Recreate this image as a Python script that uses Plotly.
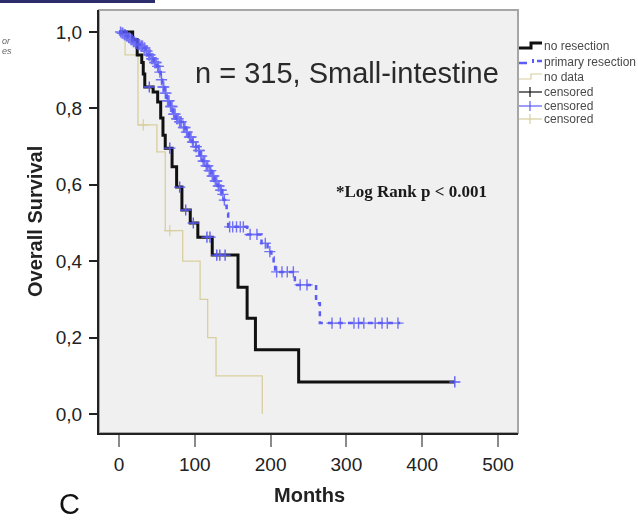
import numpy as np
import plotly.graph_objects as go

# ---------------- data ----------------
no_res_t = [0, 18, 24, 30, 32, 34, 45, 51, 55, 58, 61, 70, 76, 83, 94, 104, 123, 157, 169, 180, 237, 443]
no_res_s = [1.0, 0.98, 0.94, 0.92, 0.89, 0.856, 0.843, 0.817, 0.775, 0.73, 0.696, 0.647, 0.594, 0.534,
            0.50, 0.463, 0.416, 0.332, 0.251, 0.168, 0.084, 0.084]
no_res_cens = [40, 67, 80, 88, 98, 116, 120, 129, 133, 140, 443]

prim_t = [0, 3, 6, 9, 12, 15, 18, 21, 24, 28, 32, 35, 38, 42, 46, 50, 53, 55, 57, 60, 63, 67, 71, 75, 79,
          84, 88, 92, 96, 100, 104, 107, 110, 114, 118, 122, 126, 130, 133, 136, 138, 140, 142, 144,
          169, 188, 196, 201, 204, 206, 232, 260, 265, 371]
prim_s = [1.0, 0.997, 0.993, 0.99, 0.985, 0.98, 0.975, 0.97, 0.967, 0.963, 0.958, 0.95, 0.94, 0.93,
          0.92, 0.91, 0.895, 0.875, 0.856, 0.84, 0.82, 0.805, 0.785, 0.773, 0.765, 0.75, 0.738, 0.725,
          0.712, 0.70, 0.69, 0.675, 0.662, 0.65, 0.637, 0.623, 0.61, 0.597, 0.586, 0.575, 0.56, 0.545,
          0.525, 0.49, 0.47, 0.447, 0.425, 0.41, 0.39, 0.372, 0.338, 0.29, 0.238, 0.238]
prim_cens = [2, 4, 5, 7, 8, 10, 11, 13, 14, 16, 17, 19, 20, 22, 23, 25, 26, 27, 29, 30, 31, 33, 34, 36,
             37, 39, 40, 41, 43, 44, 45, 47, 48, 49, 51, 52, 54, 56, 58, 59, 61, 62, 64, 65, 66, 68, 69,
             70, 72, 73, 74, 76, 77, 78, 80, 81, 82, 85, 86, 87, 89, 90, 93, 94, 95, 97, 98, 101, 102,
             105, 106, 108, 109, 111, 112, 113, 115, 116, 117, 119, 120, 121, 123, 124, 125, 127, 128,
             129, 131, 132, 134, 135, 137, 139, 146, 150, 155, 160, 164, 173, 182, 193, 199, 208, 215,
             222, 230, 239, 248, 281, 292, 310, 316, 323, 338, 347, 354, 368]

nodata_t = [0, 8, 25, 50, 61, 84, 107, 117, 128, 189]
nodata_s = [1.0, 0.94, 0.757, 0.686, 0.48, 0.40, 0.30, 0.20, 0.10, 0.0]
nodata_cens = [32, 67]

x_ticks = [0, 100, 200, 300, 400, 500]
y_ticks = [0.0, 0.2, 0.4, 0.6, 0.8, 1.0]
y_ticktext = ["0,0", "0,2", "0,4", "0,6", "0,8", "1,0"]

legend_labels = ["no resection", "primary resection", "no data", "censored", "censored", "censored"]

# ---------------- styles ----------------
BLACK = "#111111"
BLUE = "#5c5cf6"
TAN = "#d8cf9e"


def surv_at(times, surv, c):
    idx = np.searchsorted(np.array(times), np.array(c), side="right") - 1
    return np.array(surv)[idx]


fig = go.Figure()

fig.add_trace(go.Scatter(x=nodata_t, y=nodata_s, mode="lines", line=dict(color=TAN, width=1.3, shape="hv"),
                         showlegend=False))
fig.add_trace(go.Scatter(x=nodata_cens, y=surv_at(nodata_t, nodata_s, nodata_cens), mode="markers",
                         marker=dict(symbol="cross-thin", size=8, line=dict(color=TAN, width=1.2)),
                         showlegend=False))

fig.add_trace(go.Scatter(x=no_res_t, y=no_res_s, mode="lines", line=dict(color=BLACK, width=3, shape="hv"),
                         showlegend=False))
fig.add_trace(go.Scatter(x=no_res_cens, y=surv_at(no_res_t, no_res_s, no_res_cens), mode="markers",
                         marker=dict(symbol="cross-thin", size=8, line=dict(color=BLUE, width=1.4)),
                         showlegend=False))

fig.add_trace(go.Scatter(x=prim_t, y=prim_s, mode="lines",
                         line=dict(color=BLUE, width=2.5, shape="hv", dash="5px,5px"), showlegend=False))
fig.add_trace(go.Scatter(x=prim_cens, y=surv_at(prim_t, prim_s, prim_cens), mode="markers",
                         marker=dict(symbol="cross-thin", size=8, line=dict(color=BLUE, width=1.4)),
                         opacity=0.85, showlegend=False))

# pixel -> paper helpers
L, R, T, B = 99, 518, 10, 433
W, H = R - L, B - T


def px(x):
    return (x - L) / W


def py(y):
    return (B - y) / H


shapes = []
# plot frame (grey top/right)
shapes.append(dict(type="rect", xref="paper", yref="paper", x0=0, y0=0, x1=1, y1=1,
                   line=dict(color="#a6a6a6", width=2), layer="below"))
# navy strip at top-left
shapes.append(dict(type="line", xref="paper", yref="paper", x0=px(0), x1=px(155), y0=py(1.5), y1=py(1.5),
                   line=dict(color="#2d2d6e", width=3)))


def path(points):
    s = "M " + " L ".join(f"{px(a):.5f},{py(b):.5f}" for a, b in points)
    return s


rows_y = [46, 62, 77, 92, 106, 119]
# legend samples
shapes.append(dict(type="path", xref="paper", yref="paper",
                   path=path([(519, rows_y[0] + 2), (531, rows_y[0] + 2), (531, rows_y[0] - 3), (542, rows_y[0] - 3)]),
                   line=dict(color=BLACK, width=3)))
shapes.append(dict(type="path", xref="paper", yref="paper",
                   path=path([(519, rows_y[1] + 1), (527, rows_y[1] + 1)]), line=dict(color=BLUE, width=2.5)))
shapes.append(dict(type="path", xref="paper", yref="paper",
                   path=path([(533, rows_y[1] - 3), (533, rows_y[1] + 1)]), line=dict(color=BLUE, width=2)))
shapes.append(dict(type="path", xref="paper", yref="paper",
                   path=path([(537, rows_y[1] - 1), (542, rows_y[1] - 1)]), line=dict(color=BLUE, width=2.5)))
shapes.append(dict(type="path", xref="paper", yref="paper",
                   path=path([(519, rows_y[2] + 2), (531, rows_y[2] + 2), (531, rows_y[2] - 3), (542, rows_y[2] - 3)]),
                   line=dict(color=TAN, width=1.2)))
for ry, col in zip(rows_y[3:], [BLACK, BLUE, TAN]):
    shapes.append(dict(type="path", xref="paper", yref="paper", path=path([(519, ry), (542, ry)]),
                       line=dict(color=col, width=1.2)))
    shapes.append(dict(type="path", xref="paper", yref="paper", path=path([(530, ry - 5), (530, ry + 5)]),
                       line=dict(color=col, width=1.2)))

annotations = []
for ry, lab in zip(rows_y, legend_labels):
    annotations.append(dict(xref="paper", yref="paper", x=px(542), y=py(ry), text=lab, showarrow=False,
                            xanchor="left", yanchor="middle", font=dict(family="Arial", size=12, color="#4a4a4a")))

annotations.append(dict(xref="paper", yref="paper", x=px(347), y=py(73), text="n = 315, Small-intestine",
                        showarrow=False, xanchor="center", yanchor="middle",
                        font=dict(family="Arial", size=29, color="#2a2a2a")))
annotations.append(dict(xref="paper", yref="paper", x=px(411), y=py(192), text="<b>*Log Rank p &lt; 0.001</b>",
                        showarrow=False, xanchor="center", yanchor="middle",
                        font=dict(family="Liberation Serif", size=17, color="#1a1a1a")))
annotations.append(dict(xref="paper", yref="paper", x=px(35), y=py(222), text="<b>Overall Survival</b>",
                        showarrow=False, textangle=-90, xanchor="center", yanchor="middle",
                        font=dict(family="Arial", size=20, color="#222222")))
annotations.append(dict(xref="paper", yref="paper", x=px(309), y=py(495), text="<b>Months</b>",
                        showarrow=False, xanchor="center", yanchor="middle",
                        font=dict(family="Arial", size=20, color="#222222")))
annotations.append(dict(xref="paper", yref="paper", x=px(69), y=py(521), text="C",
                        showarrow=False, xanchor="center", yanchor="bottom", borderpad=0,
                        font=dict(family="Arial", size=29, color="#111111")))
annotations.append(dict(xref="paper", yref="paper", x=px(0), y=py(41), text="<i>or</i>",
                        showarrow=False, xanchor="left", yanchor="middle",
                        font=dict(family="Arial", size=9, color="#666666")))
annotations.append(dict(xref="paper", yref="paper", x=px(0), y=py(51), text="<i>es</i>",
                        showarrow=False, xanchor="left", yanchor="middle",
                        font=dict(family="Arial", size=9, color="#666666")))

fig.update_layout(
    width=638, height=521,
    margin=dict(l=L, r=638 - R, t=T, b=521 - B, pad=0),
    paper_bgcolor="white", plot_bgcolor="#f0f0f0",
    shapes=shapes, annotations=annotations,
    showlegend=False,
    xaxis=dict(range=[-26.4, 526.4], tickvals=x_ticks, ticks="outside", ticklen=12, tickwidth=1.5,
               tickcolor="#8a8a8a", showline=True, linecolor="#222222", linewidth=2, showgrid=False,
               zeroline=False, tickfont=dict(family="Arial", size=19, color="#222222"),
               ticklabelstandoff=1),
    yaxis=dict(range=[-0.0497, 1.0576], tickvals=y_ticks, ticktext=y_ticktext, ticks="outside", ticklen=8,
               tickwidth=1.5, tickcolor="#222222", showline=True, linecolor="#222222", linewidth=2,
               showgrid=False, zeroline=False, tickfont=dict(family="Arial", size=19, color="#222222"),
               ticklabelstandoff=3),
)

fig.write_html("out.html")
